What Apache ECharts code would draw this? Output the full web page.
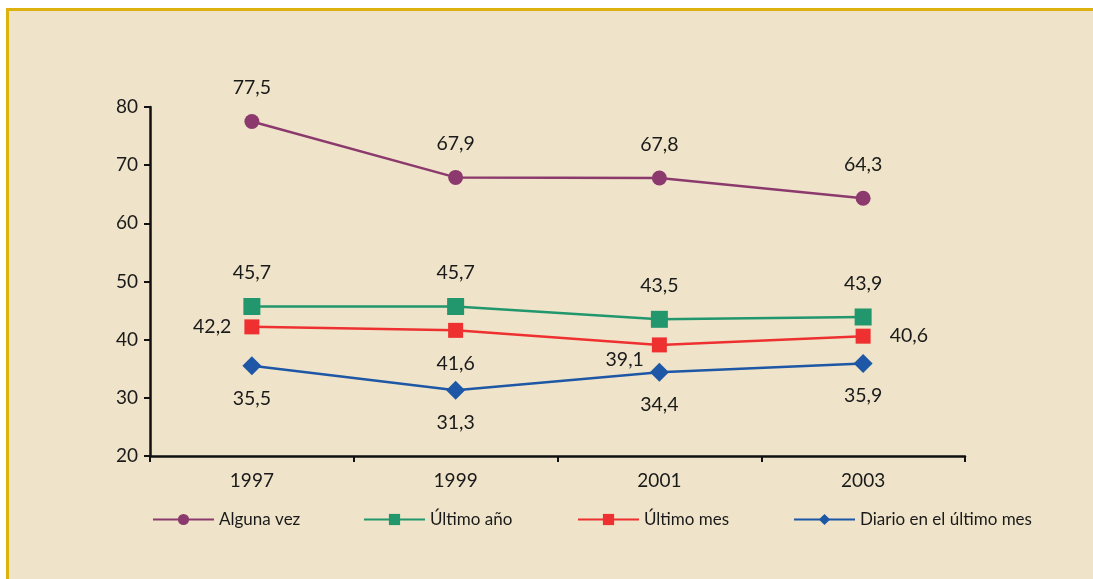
<!DOCTYPE html>
<html>
<head>
<meta charset="utf-8">
<script src="https://cdn.jsdelivr.net/npm/echarts@6/dist/echarts.min.js"></script>
<style>
  html, body { margin: 0; padding: 0; background: #ffffff; width: 1093px; height: 579px; overflow: hidden; }
  #panel { position: absolute; left: 6px; top: 8px; right: 0; bottom: 0; background: #EFE4C9; border-top: 3px solid #DEB20E; border-left: 3px solid #DEB20E; }
  #chart { position: absolute; left: 0; top: 0; width: 1093px; height: 579px; }
</style>
</head>
<body>
<div id="panel"></div>
<div id="chart"></div>
<script>
const years = ['1997', '1999', '2001', '2003'];
const seriesNames = ['Alguna vez', 'Último año', 'Último mes', 'Diario en el último mes'];
const algunaVez = [77.5, 67.9, 67.8, 64.3];
const ultimoAno = [45.7, 45.7, 43.5, 43.9];
const ultimoMes = [42.2, 41.6, 39.1, 40.6];
const diario = [35.5, 31.3, 34.4, 35.9];
const yTicks = [20, 30, 40, 50, 60, 70, 80];

const FONT = 'Lato, "Open Sans", sans-serif';
const fmt = v => String(v.toFixed(1)).replace('.', ',');

const chart = echarts.init(document.getElementById('chart'), null, { renderer: 'canvas' });

function lbl(pos, dist, extra) {
  return Object.assign({
    show: true, position: pos, distance: dist,
    color: '#1a1a1a', fontSize: 19.5, fontFamily: FONT,
    formatter: p => fmt(p.value)
  }, extra || {});
}

const ultimoMesData = ultimoMes.map((v, i) => {
  const item = { value: v };
  if (i === 0) item.label = lbl('left', 13);
  if (i === 1) item.label = lbl('bottom', 16);
  if (i === 2) item.label = lbl('left', 8, { offset: [0, 15] });
  if (i === 3) item.label = lbl('right', 19);
  return item;
});

const option = {
  backgroundColor: 'transparent',
  animation: false,
  grid: { left: 150, right: 128, top: 107, bottom: 123, containLabel: false },
  xAxis: {
    type: 'category',
    data: years,
    boundaryGap: true,
    axisLine: { lineStyle: { color: '#111', width: 2.5 } },
    axisTick: { show: true, length: 6, lineStyle: { color: '#111', width: 2 }, alignWithLabel: false },
    axisLabel: { color: '#1a1a1a', fontSize: 19, fontFamily: FONT, margin: 15 },
    splitLine: { show: false }
  },
  yAxis: {
    type: 'value',
    min: yTicks[0], max: yTicks[yTicks.length - 1], interval: 10,
    axisLine: { show: true, lineStyle: { color: '#111', width: 2.5 } },
    axisTick: { show: true, length: 6, lineStyle: { color: '#111', width: 2 } },
    axisLabel: { color: '#1a1a1a', fontSize: 19, fontFamily: FONT, margin: 12 },
    splitLine: { show: false }
  },
  legend: [
    { data: [seriesNames[0]], left: 152, top: 511 },
    { data: [seriesNames[1]], left: 363, top: 511 },
    { data: [seriesNames[2]], left: 577, top: 511 },
    { data: [seriesNames[3]], left: 793, top: 511 }
  ].map(l => Object.assign(l, {
    itemWidth: 61, itemHeight: 14, itemGap: 0,
    textStyle: { color: '#1a1a1a', fontSize: 17, fontFamily: FONT },
    padding: 0
  })),
  series: [
    {
      name: seriesNames[0], type: 'line', data: algunaVez,
      symbol: 'circle', symbolSize: 15,
      color: '#8C3A6E',
      lineStyle: { width: 2.5, color: '#8C3A6E' },
      itemStyle: { color: '#8C3A6E' },
      label: lbl('top', 16)
    },
    {
      name: seriesNames[1], type: 'line', data: ultimoAno,
      symbol: 'rect', symbolSize: 17,
      color: '#22966C',
      lineStyle: { width: 2.5, color: '#22966C' },
      itemStyle: { color: '#22966C' },
      label: lbl('top', 15)
    },
    {
      name: seriesNames[2], type: 'line', data: ultimoMesData,
      symbol: 'rect', symbolSize: 15,
      color: '#EE3030',
      lineStyle: { width: 2.5, color: '#EE3030' },
      itemStyle: { color: '#EE3030' },
      label: { show: true, color: '#1a1a1a', fontSize: 19.5, fontFamily: FONT, formatter: p => fmt(p.value) }
    },
    {
      name: seriesNames[3], type: 'line', data: diario,
      symbol: 'diamond', symbolSize: 19,
      color: '#1D57A6',
      lineStyle: { width: 2.5, color: '#1D57A6' },
      itemStyle: { color: '#1D57A6' },
      label: lbl('bottom', 13)
    }
  ]
};
chart.setOption(option);
</script>
</body>
</html>
